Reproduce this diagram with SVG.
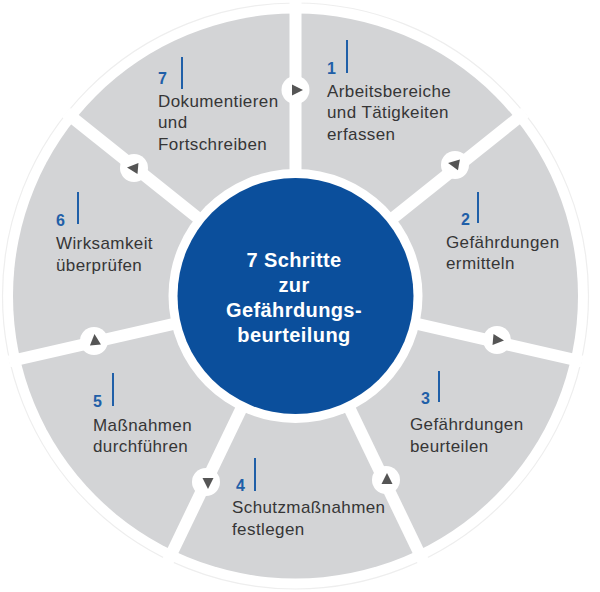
<svg xmlns="http://www.w3.org/2000/svg" width="600" height="592" viewBox="0 0 600 592">
<defs>
<style>
.lbl{font-family:"Liberation Sans",Arial,sans-serif;font-size:17px;fill:#363636;letter-spacing:0.4px}
.num{font-family:"Liberation Sans",Arial,sans-serif;font-size:16px;font-weight:bold;fill:#1f5fa8}
.bar{stroke:#1f5fa8;stroke-width:2}
.sep{stroke:#ffffff;stroke-width:12;stroke-linecap:butt}
.ac{fill:#ffffff}
.tri{fill:#555555}
.ctr{font-family:"Liberation Sans",Arial,sans-serif;font-size:20px;font-weight:bold;fill:#ffffff;text-anchor:middle;letter-spacing:0.4px}
</style>
<polygon id="tri" class="tri" points="-5,-5.5 6,0 -5,5.5"/>
</defs>
<rect width="600" height="592" fill="#ffffff"/>
<circle cx="295.5" cy="296" r="293" fill="#ffffff" stroke="#eeeeee" stroke-width="1.2"/>
<circle cx="295.5" cy="296" r="282.5" fill="#d3d4d6"/>
<g id="connectors">
<line class="sep" x1="295.5" y1="296" x2="295.5" y2="2"/>
<line class="sep" x1="295.5" y1="296" x2="525" y2="112.5"/>
<line class="sep" x1="295.5" y1="296" x2="582" y2="361.5"/>
<line class="sep" x1="295.5" y1="296" x2="423" y2="561"/>
<line class="sep" x1="295.5" y1="296" x2="168" y2="561"/>
<line class="sep" x1="295.5" y1="296" x2="9" y2="361.5"/>
<line class="sep" x1="295.5" y1="296" x2="66" y2="112.5"/>
<circle class="ac" cx="295.5" cy="90" r="14"/>
<use href="#tri" transform="translate(297,90)"/>
<circle class="ac" cx="455" cy="165" r="14"/>
<use href="#tri" transform="translate(454,164) rotate(190)"/>
<circle class="ac" cx="497" cy="340" r="14"/>
<use href="#tri" transform="translate(498,340) rotate(5)"/>
<circle class="ac" cx="386" cy="480" r="14"/>
<use href="#tri" transform="translate(387,479) rotate(-90)"/>
<circle class="ac" cx="206" cy="482" r="14"/>
<use href="#tri" transform="translate(208,483) rotate(90)"/>
<circle class="ac" cx="94" cy="341" r="14"/>
<use href="#tri" transform="translate(95,340) rotate(-95)"/>
<circle class="ac" cx="134" cy="168" r="14"/>
<use href="#tri" transform="translate(133,168) rotate(185)"/>
</g>
<g id="center">
<circle cx="295.5" cy="296" r="127" fill="#ffffff"/>
<circle cx="295.5" cy="296" r="118" fill="#0b4f9c"/>
<text class="ctr" x="294" y="267">7 Schritte</text>
<text class="ctr" x="294" y="292">zur</text>
<text class="ctr" x="294" y="317">Gefährdungs-</text>
<text class="ctr" x="294" y="342">beurteilung</text>
</g>
<g id="step1">
<text class="num" x="327" y="74">1</text>
<line class="bar" x1="347" y1="40" x2="347" y2="73"/>
<text class="lbl" x="327" y="97">Arbeitsbereiche</text>
<text class="lbl" x="327" y="118">und Tätigkeiten</text>
<text class="lbl" x="327" y="140">erfassen</text>
</g>
<g id="step2">
<text class="num" x="461" y="225">2</text>
<line class="bar" x1="478" y1="192" x2="478" y2="223"/>
<text class="lbl" x="446" y="248">Gefährdungen</text>
<text class="lbl" x="446" y="269">ermitteln</text>
</g>
<g id="step3">
<text class="num" x="421" y="404">3</text>
<line class="bar" x1="439" y1="371" x2="439" y2="402"/>
<text class="lbl" x="410" y="430">Gefährdungen</text>
<text class="lbl" x="410" y="452">beurteilen</text>
</g>
<g id="step4">
<text class="num" x="236" y="491">4</text>
<line class="bar" x1="255" y1="458" x2="255" y2="491"/>
<text class="lbl" x="232" y="513">Schutzmaßnahmen</text>
<text class="lbl" x="232" y="535">festlegen</text>
</g>
<g id="step5">
<text class="num" x="93" y="407">5</text>
<line class="bar" x1="113" y1="373" x2="113" y2="406"/>
<text class="lbl" x="93" y="431">Maßnahmen</text>
<text class="lbl" x="93" y="452">durchführen</text>
</g>
<g id="step6">
<text class="num" x="56" y="226">6</text>
<line class="bar" x1="78" y1="192" x2="78" y2="224"/>
<text class="lbl" x="56" y="249">Wirksamkeit</text>
<text class="lbl" x="56" y="271">überprüfen</text>
</g>
<g id="step7">
<text class="num" x="158" y="84">7</text>
<line class="bar" x1="182" y1="57" x2="182" y2="89"/>
<text class="lbl" x="158" y="107">Dokumentieren</text>
<text class="lbl" x="158" y="128">und</text>
<text class="lbl" x="158" y="150">Fortschreiben</text>
</g>
</svg>
